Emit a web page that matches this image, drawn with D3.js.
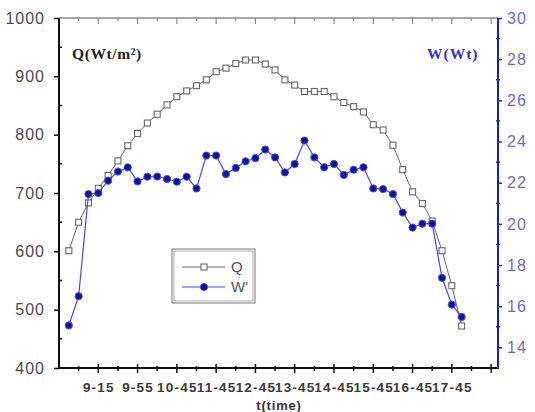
<!DOCTYPE html>
<html>
<head>
<meta charset="utf-8">
<script src="https://cdn.jsdelivr.net/npm/d3@7"></script>
<style>
  body { margin: 0; background: #fff; }
  svg { display: block; }
</style>
</head>
<body>
<svg id="chart" width="535" height="412"></svg>
<script>
// sample index (every 15 min), Q and W readings
var points = d3.range(1, 42);
var qValues = [601, 650, 683, 708, 730, 755, 781, 802, 820, 835,
               851, 865, 875, 884, 894, 908, 914, 922, 928, 928,
               921, 911, 894, 885, 874, 874, 874, 865, 855, 848,
               839, 817, 808, 782, 740, 702, 682, 652, 601, 541, 472];
var wValues = [15.07, 16.49, 21.45, 21.5, 22.1, 22.54, 22.75, 22.06, 22.29, 22.3,
               22.18, 22.05, 22.29, 21.72, 23.32, 23.32, 22.42, 22.72, 23.04, 23.19,
               23.61, 23.23, 22.5, 22.91, 24.05, 23.23, 22.75, 22.91, 22.38, 22.63,
               22.75, 21.72, 21.69, 21.45, 20.55, 19.82, 20.01, 20.01, 17.38, 16.08, 15.48];
var timeTicks = [4, 8, 12, 16, 20, 24, 28, 32, 36, 40, 44];
var timeLabels = ["9-15", "9-55", "10-45", "11-45", "12-45", "13-45", "14-45", "15-45", "16-45", "17-45", ""];
var qTicks = [400, 500, 600, 700, 800, 900, 1000];
var wTicks = [14, 16, 18, 20, 22, 24, 26, 28, 30];

var svg = d3.select("#chart");

var x = d3.scaleLinear().domain([0, 44.7]).range([59, 498]);
var yQ = d3.scaleLinear().domain([400, 1000]).range([368, 18]);
var yW = d3.scaleLinear().domain([13, 30]).range([368, 18]);

var top_y = yQ(1000), bottom_y = yQ(400);
var left_x = x(0), right_x = x(44.7);

// top frame line with small ticks pointing down
svg.append("line")
  .attr("x1", left_x).attr("x2", right_x)
  .attr("y1", top_y).attr("y2", top_y)
  .attr("stroke", "#888").attr("stroke-width", 1.5);
svg.selectAll(".top-tick")
  .data(d3.range(2, 45, 2))
  .enter().append("line")
  .attr("x1", function(d){ return x(d); })
  .attr("x2", function(d){ return x(d); })
  .attr("y1", top_y)
  .attr("y2", function(d){ return top_y + (d % 4 == 0 ? 6 : 3); })
  .attr("stroke", "#888").attr("stroke-width", 1.2);

// bottom axis
var xAxis = d3.axisBottom(x)
  .tickValues(timeTicks)
  .tickSize(0)
  .tickPadding(14)
  .tickFormat(function(d, i){ return timeLabels[i]; });
var gx = svg.append("g").attr("transform", "translate(0," + bottom_y + ")").call(xAxis);
gx.select(".domain").remove();
gx.selectAll("text")
  .attr("font-family", "Liberation Sans, Arial, sans-serif")
  .attr("font-size", 13.5).attr("font-weight", "bold")
  .attr("letter-spacing", 1.2).attr("fill", "#3a3a3a");
svg.append("line")
  .attr("x1", left_x).attr("x2", right_x)
  .attr("y1", bottom_y).attr("y2", bottom_y)
  .attr("stroke", "#111").attr("stroke-width", 2);
svg.selectAll(".x-tick")
  .data(d3.range(2, 45, 2))
  .enter().append("line")
  .attr("x1", function(d){ return x(d); })
  .attr("x2", function(d){ return x(d); })
  .attr("y1", function(d){ return bottom_y - (d % 4 == 0 ? 4 : 2); })
  .attr("y2", function(d){ return bottom_y + (d % 4 == 0 ? 5 : 3); })
  .attr("stroke", "#111").attr("stroke-width", 1.5);

// left axis (Q)
var qAxis = d3.axisLeft(yQ).tickValues(qTicks).tickSize(5).tickPadding(9).tickFormat(d3.format("d"));
var gq = svg.append("g").attr("transform", "translate(" + left_x + ",0)").call(qAxis);
gq.select(".domain").remove();
gq.selectAll("line").attr("stroke", "#111").attr("stroke-width", 1.5);
gq.selectAll("text")
  .attr("font-family", "Liberation Sans, Arial, sans-serif")
  .attr("font-size", 16).attr("letter-spacing", 1).attr("fill", "#4a4a4a");
svg.selectAll(".q-minor")
  .data(d3.range(450, 1000, 100))
  .enter().append("line")
  .attr("x1", left_x - 1).attr("x2", left_x + 3)
  .attr("y1", function(d){ return yQ(d); })
  .attr("y2", function(d){ return yQ(d); })
  .attr("stroke", "#111").attr("stroke-width", 1.5);
svg.append("line")
  .attr("x1", left_x).attr("x2", left_x)
  .attr("y1", top_y).attr("y2", bottom_y + 1)
  .attr("stroke", "#111").attr("stroke-width", 2);

// right axis (W)
var wAxis = d3.axisRight(yW).tickValues(wTicks).tickSize(4).tickPadding(5).tickFormat(d3.format("d"));
var gw = svg.append("g").attr("transform", "translate(" + right_x + ",0)").call(wAxis);
gw.select(".domain").remove();
gw.selectAll("line").attr("stroke", "#2222dd").attr("stroke-width", 1.5);
gw.selectAll("text")
  .attr("font-family", "Liberation Sans, Arial, sans-serif")
  .attr("font-size", 16).attr("letter-spacing", 1).attr("fill", "#6a6ad6");
svg.selectAll(".w-minor")
  .data(d3.range(15, 30, 2))
  .enter().append("line")
  .attr("x1", right_x - 2).attr("x2", right_x + 2)
  .attr("y1", function(d){ return yW(d); })
  .attr("y2", function(d){ return yW(d); })
  .attr("stroke", "#2222dd").attr("stroke-width", 1.5);
svg.append("line")
  .attr("x1", right_x).attr("x2", right_x)
  .attr("y1", top_y).attr("y2", bottom_y + 1)
  .attr("stroke", "#1a1ae0").attr("stroke-width", 2);

// Q series: grey line, open squares
var qLine = d3.line()
  .x(function(d, i){ return x(points[i]); })
  .y(function(d){ return yQ(d); });
svg.append("path")
  .datum(qValues)
  .attr("d", qLine)
  .attr("fill", "none").attr("stroke", "#666").attr("stroke-width", 1);
svg.selectAll(".q-pt")
  .data(qValues)
  .enter().append("rect")
  .attr("x", function(d, i){ return x(points[i]) - 3; })
  .attr("y", function(d){ return yQ(d) - 3; })
  .attr("width", 6).attr("height", 6)
  .attr("fill", "#fff").attr("stroke", "#666").attr("stroke-width", 1.1);

// W series: blue line, filled dots
var wLine = d3.line()
  .x(function(d, i){ return x(points[i]); })
  .y(function(d){ return yW(d); });
svg.append("path")
  .datum(wValues)
  .attr("d", wLine)
  .attr("fill", "none").attr("stroke", "#4444ff").attr("stroke-width", 1.2);
svg.selectAll(".w-pt")
  .data(wValues)
  .enter().append("circle")
  .attr("cx", function(d, i){ return x(points[i]); })
  .attr("cy", function(d){ return yW(d); })
  .attr("r", 3.6)
  .attr("fill", "#12128c").attr("stroke", "#4a4aff").attr("stroke-width", 1);

// axis captions
svg.append("text")
  .attr("x", 72).attr("y", 59)
  .attr("font-family", "Liberation Serif, Times New Roman, serif")
  .attr("font-size", 15.5).attr("font-weight", "bold").attr("letter-spacing", 0.6)
  .attr("fill", "#222")
  .text("Q(Wt/m²)");
svg.append("text")
  .attr("x", 427).attr("y", 59)
  .attr("font-family", "Liberation Serif, Times New Roman, serif")
  .attr("font-size", 15.5).attr("font-weight", "bold").attr("letter-spacing", 1)
  .attr("fill", "#3434c8")
  .text("W(Wt)");
svg.append("text")
  .attr("x", 279).attr("y", 410)
  .attr("text-anchor", "middle")
  .attr("font-family", "Liberation Sans, Arial, sans-serif")
  .attr("font-size", 13).attr("font-weight", "bold").attr("letter-spacing", 0.8)
  .attr("fill", "#333")
  .text("t(time)");

// legend
var legend = svg.append("g").attr("transform", "translate(172,249)");
legend.append("rect").attr("width", 83).attr("height", 54)
  .attr("fill", "#fff").attr("stroke", "#777").attr("stroke-width", 1);
legend.append("rect").attr("x", 2).attr("y", 2).attr("width", 79).attr("height", 50)
  .attr("fill", "none").attr("stroke", "#999").attr("stroke-width", 0.8);
legend.append("line").attr("x1", 10).attr("x2", 53).attr("y1", 18).attr("y2", 18)
  .attr("stroke", "#666").attr("stroke-width", 1);
legend.append("rect").attr("x", 29).attr("y", 15).attr("width", 6).attr("height", 6)
  .attr("fill", "#fff").attr("stroke", "#666").attr("stroke-width", 1.1);
legend.append("text").attr("x", 59).attr("y", 23)
  .attr("font-family", "Liberation Sans, Arial, sans-serif").attr("font-size", 15)
  .attr("fill", "#555").text("Q");
legend.append("line").attr("x1", 10).attr("x2", 53).attr("y1", 38).attr("y2", 38)
  .attr("stroke", "#4444ff").attr("stroke-width", 1.2);
legend.append("circle").attr("cx", 32).attr("cy", 38).attr("r", 3.6)
  .attr("fill", "#12128c").attr("stroke", "#4a4aff").attr("stroke-width", 1);
legend.append("text").attr("x", 59).attr("y", 43)
  .attr("font-family", "Liberation Sans, Arial, sans-serif").attr("font-size", 15)
  .attr("fill", "#555").text("W'");
</script>
</body>
</html>
